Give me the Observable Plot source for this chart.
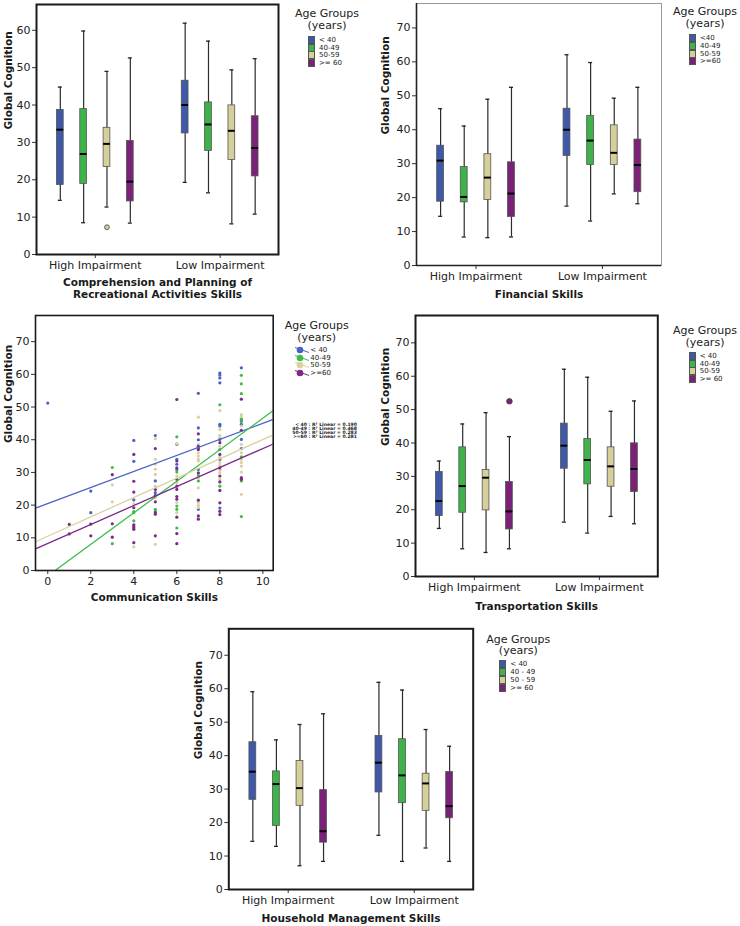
<!DOCTYPE html>
<html>
<head>
<meta charset="utf-8">
<script src="https://cdn.jsdelivr.net/npm/d3@7"></script>
<script src="https://cdn.jsdelivr.net/npm/@observablehq/plot@0.6"></script>
<style>
  body { margin: 0; background: #fff; }
  #root { position: relative; width: 740px; height: 926px; overflow: hidden; font-family: "DejaVu Sans", sans-serif; color: #222; }
  #root svg { position: absolute; overflow: visible; }
  .lg-title { position: absolute; width: 110px; text-align: center; font-size: 11px; line-height: 11.6px; color: #222; }
  .lg-item { position: absolute; height: 8px; display: flex; align-items: center; font-size: 7px; color: #222; white-space: nowrap; }
  .lg-sw { display: inline-block; width: 5px; height: 6px; border: 1px solid #555; margin-right: 4px; }
  .r2 { position: absolute; font-size: 4.6px; line-height: 3.9px; font-weight: bold; white-space: pre; text-align: right; color: #222; }
</style>
</head>
<body>
<div id="root"></div>
<script>
// ---------------- data ----------------
const ageGroups = ["<40", "40-49", "50-59", ">=60"];
const impairmentLevels = ["High Impairment", "Low Impairment"];
const yTitle = "Global Cognition";
const legendTitle = ["Age Groups", "(years)"];

const boxColors = ["#3f58a8", "#3db34a", "#d5cf99", "#7b2178"];
const scatterColors = ["#4862c5", "#3fbd4c", "#d9d19e", "#7b2a85"];

const recreationalYTicks = [0, 10, 20, 30, 40, 50, 60];
const cognitionYTicks = [0, 10, 20, 30, 40, 50, 60, 70];
const communicationXTicks = [0, 2, 4, 6, 8, 10];

// [impairment, age group, lower whisker, Q1, median, Q3, upper whisker]
const recreationalStats = [
  ["High Impairment", "<40", 14.5, 18.6, 33.4, 38.7, 44.8],
  ["High Impairment", "40-49", 8.5, 18.9, 26.9, 38.9, 59.8],
  ["High Impairment", "50-59", 12.7, 23.4, 29.6, 33.9, 49.0],
  ["High Impairment", ">=60", 8.4, 14.2, 19.5, 30.4, 52.6],
  ["Low Impairment", "<40", 19.3, 32.4, 40.0, 46.5, 61.9],
  ["Low Impairment", "40-49", 16.5, 27.7, 34.8, 40.7, 57.1],
  ["Low Impairment", "50-59", 8.2, 25.3, 33.1, 39.9, 49.4],
  ["Low Impairment", ">=60", 10.8, 20.9, 28.5, 37.0, 52.4]
];
const recreationalOutliers = [["High Impairment", "50-59", 7.3]];

const financialStats = [
  ["High Impairment", "<40", 14.5, 18.8, 30.9, 35.3, 46.2],
  ["High Impairment", "40-49", 8.4, 18.6, 20.2, 29.0, 41.1],
  ["High Impairment", "50-59", 8.2, 19.3, 25.9, 32.8, 49.0],
  ["High Impairment", ">=60", 8.4, 14.3, 21.2, 30.4, 52.5],
  ["Low Impairment", "<40", 17.5, 32.3, 40.0, 46.2, 62.1],
  ["Low Impairment", "40-49", 13.1, 29.6, 36.8, 44.1, 59.8],
  ["Low Impairment", "50-59", 21.1, 29.6, 33.2, 41.3, 49.3],
  ["Low Impairment", ">=60", 18.2, 21.6, 29.6, 37.1, 52.5]
];

const transportationStats = [
  ["High Impairment", "<40", 14.4, 18.1, 22.6, 31.3, 34.6],
  ["High Impairment", "40-49", 8.3, 19.1, 27.1, 38.7, 45.7],
  ["High Impairment", "50-59", 7.2, 19.8, 29.6, 31.9, 49.1],
  ["High Impairment", ">=60", 8.3, 14.1, 19.5, 28.3, 41.9],
  ["Low Impairment", "<40", 16.3, 32.3, 39.2, 45.8, 62.1],
  ["Low Impairment", "40-49", 13.0, 27.6, 34.9, 41.2, 59.7],
  ["Low Impairment", "50-59", 18.0, 26.9, 33.0, 38.7, 49.5],
  ["Low Impairment", ">=60", 15.8, 25.3, 32.2, 39.9, 52.6]
];
const transportationOutliers = [["High Impairment", ">=60", 52.5]];

const householdStats = [
  ["High Impairment", "<40", 14.4, 26.8, 35.2, 44.0, 59.1],
  ["High Impairment", "40-49", 12.9, 19.0, 31.5, 35.3, 44.7],
  ["High Impairment", "50-59", 7.1, 25.0, 30.3, 38.4, 49.3],
  ["High Impairment", ">=60", 8.4, 14.0, 17.4, 29.7, 52.5],
  ["Low Impairment", "<40", 16.2, 29.0, 37.9, 45.9, 61.9],
  ["Low Impairment", "40-49", 8.4, 25.8, 34.1, 44.9, 59.6],
  ["Low Impairment", "50-59", 12.4, 23.5, 31.7, 34.6, 47.8],
  ["Low Impairment", ">=60", 8.4, 21.3, 24.9, 35.1, 42.8]
];

// Communication skills scatter: [score, global cognition]
const commUnder40 = [[0,51.2],[2,24.3],[2,17.7],[4,39.8],[4,33.4],[4,21.6],[5,41.3],[5,27.4],[5,23.8],[5,23.0],
  [6,38.6],[6,34],[6,32.5],[6,30.9],[7,54.2],[7,43.6],[7,40],[7,37.5],[7,30.9],[7,18.7],
  [8,60.4],[8,59.8],[8,58.9],[8,57.4],[8,44.7],[8,44.2],[8,40.1],[8,34],[8,19.1],
  [9,62],[9,46],[9,44.7],[9,40.1],[9,37.3]];
const comm40to49 = [[3,31.5],[3,8.2],[4,18],[4,17.7],[4,15.2],[5,18.7],[5,18.2],[6,40.9],[6,30.1],[6,19.7],
  [6,18.7],[6,13],[7,29.1],[7,27.4],[8,50.7],[8,37],[8,25.8],[9,59.7],[9,57.1],[9,54.1],
  [9,46.4],[9,45.5],[9,34.8],[9,27.4],[9,16.5]];
const comm50to59 = [[3,26.2],[3,21],[4,20.4],[4,7.2],[5,40.3],[5,34],[5,32.5],[5,31],[5,29.4],[5,25.8],
  [5,22.3],[5,8],[6,38.8],[6,28.9],[6,26.9],[6,20.8],[6,17.7],[7,46.9],[7,38.6],[7,36],
  [7,35],[7,34],[7,33.5],[7,28.4],[7,25.3],[7,20.8],[7,19.9],[7,19.2],[8,48.9],[8,43.1],
  [8,41.3],[8,40.9],[8,38],[8,34.7],[8,33],[8,32.2],[8,30.7],[8,29.9],[8,27.9],[9,47.7],
  [9,47.2],[9,44.2],[9,38.6],[9,36],[9,34],[9,33],[9,31.9],[9,30.1],[9,23.3]];
const comm60plus = [[1,14.1],[1,11.2],[2,14.2],[2,10.6],[3,29.3],[3,14.3],[3,10.2],[4,35.5],[4,27.3],[4,24],
  [4,19.2],[4,14],[4,13.6],[4,13.1],[4,12.6],[4,8.5],[5,37.3],[5,24.8],[5,21],[5,17.7],
  [5,17.2],[5,10.6],[6,52.3],[6,33.5],[6,31.4],[6,27.9],[6,25.8],[6,24.8],[6,22.6],[6,21.8],
  [6,16.3],[6,11.3],[6,8.2],[7,41.8],[7,38],[7,37],[7,29.9],[7,21.5],[7,16.7],[7,15.7],
  [8,39.1],[8,35.5],[8,31.4],[8,28.9],[8,27.1],[8,24.5],[8,20.7],[8,18.1],[8,17.1],
  [9,52.4],[9,42.9],[9,28.4],[9,27.9]];
// fitted lines read at the plot edges: [group, x start, y start, x end, y end]
const commFits = [
  ["<40", -0.57, 19.1, 10.48, 46.2],
  ["40-49", 0.34, 0, 10.48, 48.9],
  ["50-59", -0.57, 8.8, 10.48, 41.5],
  [">=60", -0.57, 6.6, 10.48, 38.7]
];
const commR2 = [0.190, 0.468, 0.283, 0.281];
const commXDomain = [-0.57, 10.48];

const legendLabels1 = ["< 40", "40-49", "50-59", ">= 60"];
const legendLabels2 = ["<40", "40-49", "50-59", ">=60"];
const legendLabels3 = ["< 40", "40-49", "50-59", ">=60"];
const legendLabels4 = ["< 40", "40-49", "50-59", ">= 60"];
const legendLabels5 = ["< 40", "40 - 49", "50 - 59", ">= 60"];
const r2Labels = ["< 40", "40-49", "50-59", ">=60"];

// ---------------- layout helpers ----------------
const root = document.getElementById("root");
const SLOT_GAP = 5.35, BOX_HALF = 0.145, CAP_HALF = 0.085;
const X_DOMAIN = [-1.02, 9.35];
const plotStyle = { fontFamily: "DejaVu Sans, sans-serif", fontSize: "11px", color: "#222", background: "transparent" };

function place(svg, left, top) {
  svg.style.left = left + "px";
  svg.style.top = top + "px";
  root.appendChild(svg);
}

function slot(imp, age) {
  return impairmentLevels.indexOf(imp) * SLOT_GAP + ageGroups.indexOf(age);
}

function boxPanel(cfg) {
  const rows = cfg.stats.map(([imp, age, lo, q1, med, q3, hi]) => ({imp, age, lo, q1, med, q3, hi, pos: slot(imp, age)}));
  const outl = (cfg.outliers || []).map(([imp, age, v]) => ({age, v, pos: slot(imp, age)}));
  const centers = impairmentLevels.map((_, i) => i * SLOT_GAP + (ageGroups.length - 1) / 2);
  const frameMarks = cfg.openFrame
    ? [
        Plot.frame({stroke: "#999", strokeWidth: 1}),
        Plot.ruleX([X_DOMAIN[0]], {stroke: "#222", strokeWidth: 1.6}),
        Plot.ruleY([0], {stroke: "#222", strokeWidth: 1.6})
      ]
    : [Plot.frame({stroke: "#1a1a1a", strokeWidth: 2})];
  return Plot.plot({
    width: cfg.width, height: cfg.height,
    marginLeft: cfg.mL, marginRight: cfg.mR, marginTop: cfg.mT, marginBottom: cfg.mB,
    style: plotStyle,
    x: {domain: X_DOMAIN, axis: null},
    y: {domain: [0, cfg.yMax], axis: null},
    color: {domain: ageGroups, range: boxColors},
    marks: [
      Plot.ruleX(rows, {x: "pos", y1: "lo", y2: "hi", stroke: "#2b2b2b", strokeWidth: 1.2}),
      Plot.ruleY(rows, {x1: d => d.pos - CAP_HALF, x2: d => d.pos + CAP_HALF, y: "hi", stroke: "#222", strokeWidth: 1.3}),
      Plot.ruleY(rows, {x1: d => d.pos - CAP_HALF, x2: d => d.pos + CAP_HALF, y: "lo", stroke: "#222", strokeWidth: 1.3}),
      Plot.rect(rows, {x1: d => d.pos - BOX_HALF, x2: d => d.pos + BOX_HALF, y1: "q1", y2: "q3", fill: "age", stroke: "#555", strokeWidth: 0.8}),
      Plot.ruleY(rows, {x1: d => d.pos - BOX_HALF, x2: d => d.pos + BOX_HALF, y: "med", stroke: "#000", strokeWidth: 2}),
      Plot.dot(outl, {x: "pos", y: "v", r: cfg.outlierR || 2.5, fill: "age", stroke: "#444", strokeWidth: 0.8}),
      Plot.axisY({ticks: cfg.yTicks, tickSize: 4, tickPadding: 2, tickFormat: d => d, label: null, stroke: "#333"}),
      Plot.axisX({ticks: centers, tickSize: 4, tickPadding: 3, tickFormat: (d, i) => impairmentLevels[i], label: null, stroke: "#333"}),
      ...frameMarks,
      Plot.text([cfg.xTitle], {frameAnchor: "bottom", dy: cfg.titleDy, lineAnchor: "top", fontWeight: "bold", fontSize: 10.5, lineHeight: 1.12, fill: "#1a1a1a"}),
      Plot.text([yTitle], {frameAnchor: "left", dx: -cfg.yTitleDx, rotate: -90, fontWeight: "bold", fontSize: 10.5, fill: "#1a1a1a"})
    ]
  });
}

function addLegend({cx, titleTop, itemX, itemY, step, labels, scatter}) {
  const t = document.createElement("div");
  t.className = "lg-title";
  t.style.left = (cx - 55) + "px";
  t.style.top = titleTop + "px";
  t.innerHTML = legendTitle.join("<br>");
  root.appendChild(t);
  labels.forEach((lab, i) => {
    const it = document.createElement("div");
    it.className = "lg-item";
    it.style.left = (itemX - 4) + "px";
    it.style.top = (itemY + i * step - 4) + "px";
    if (scatter) {
      it.innerHTML = `<svg width="14" height="8" style="position:static;overflow:visible;margin-right:1px">
        <line x1="0" y1="1.5" x2="14" y2="6.5" stroke="${scatterColors[i]}" stroke-width="1"/>
        <circle cx="5" cy="4" r="3.3" fill="${scatterColors[i]}"/></svg><span>${lab}</span>`;
      it.style.left = (itemX - 9) + "px";
    } else {
      it.innerHTML = `<span class="lg-sw" style="background:${boxColors[i]}"></span><span>${lab}</span>`;
    }
    root.appendChild(it);
  });
}

// ---------------- panel 1: recreational ----------------
place(boxPanel({
  stats: recreationalStats, outliers: recreationalOutliers, outlierR: 2.4,
  width: 290, height: 305, mL: 36, mR: 12, mT: 4, mB: 51,
  yMax: 66.9, yTicks: recreationalYTicks,
  xTitle: "Comprehension and Planning of\nRecreational Activities Skills", titleDy: 23, yTitleDx: 28
}), 0, 0);
addLegend({cx: 327, titleTop: 8, itemX: 312, itemY: 40, step: 7.7, labels: legendLabels1});

// ---------------- panel 2: financial ----------------
place(boxPanel({
  stats: financialStats, openFrame: true,
  width: 300, height: 305, mL: 46, mR: 9, mT: 3, mB: 40,
  yMax: 77.2, yTicks: cognitionYTicks,
  xTitle: "Financial Skills", titleDy: 24, yTitleDx: 31
}), 370, 0);
addLegend({cx: 705, titleTop: 6, itemX: 693, itemY: 38.3, step: 7.6, labels: legendLabels2});

// ---------------- panel 3: communication scatter ----------------
const commGroups = [commUnder40, comm40to49, comm50to59, comm60plus];
const commRows = commGroups.flatMap((pts, gi) => pts.map(([x, y]) => ({x, y, age: ageGroups[gi]})));
const fitRows = commFits.map(([age, x1, y1, x2, y2]) => ({age, x1, y1, x2, y2}));
place(Plot.plot({
  width: 290, height: 300, marginLeft: 35, marginRight: 17.3, marginTop: 5, marginBottom: 40,
  style: plotStyle,
  x: {domain: commXDomain, axis: null},
  y: {domain: [0, 78], axis: null},
  color: {domain: ageGroups, range: scatterColors},
  marks: [
    Plot.dot(commRows, {x: "x", y: "y", fill: "age", r: 1.6}),
    Plot.link(fitRows, {x1: "x1", y1: "y1", x2: "x2", y2: "y2", stroke: "age", strokeWidth: 1.3, clip: true}),
    Plot.axisY({ticks: cognitionYTicks, tickSize: 4, tickPadding: 2, label: null, stroke: "#333"}),
    Plot.axisX({ticks: communicationXTicks, tickSize: 4, tickPadding: 3, label: null, stroke: "#333"}),
    Plot.frame({stroke: "#1a1a1a", strokeWidth: 1.6}),
    Plot.text(["Communication Skills"], {frameAnchor: "bottom", dy: 30, fontWeight: "bold", fontSize: 10.5, fill: "#1a1a1a"}),
    Plot.text([yTitle], {frameAnchor: "left", dx: -27, rotate: -90, fontWeight: "bold", fontSize: 10.5, fill: "#1a1a1a"})
  ]
}), 0, 310);
addLegend({cx: 316.7, titleTop: 320, itemX: 304.3, itemY: 350, step: 7.6, labels: legendLabels3, scatter: true});
const r2 = document.createElement("div");
r2.className = "r2";
r2.style.left = "288px";
r2.style.top = "423px";
r2.style.width = "69px";
r2.textContent = r2Labels.map((g, i) => `${g} : R² Linear = ${commR2[i].toFixed(3)}`).join("\n");
root.appendChild(r2);

// ---------------- panel 4: transportation ----------------
place(boxPanel({
  stats: transportationStats, outliers: transportationOutliers, outlierR: 2.8,
  width: 300, height: 300, mL: 45, mR: 12.7, mT: 5, mB: 34,
  yMax: 78.2, yTicks: cognitionYTicks,
  xTitle: "Transportation Skills", titleDy: 25, yTitleDx: 30
}), 370, 310);
addLegend({cx: 705, titleTop: 325, itemX: 692.7, itemY: 355.7, step: 7.8, labels: legendLabels4});

// ---------------- panel 5: household ----------------
place(boxPanel({
  stats: householdStats,
  width: 295, height: 306, mL: 38.3, mR: 12.3, mT: 8.3, mB: 37,
  yMax: 77.9, yTicks: cognitionYTicks,
  xTitle: "Household Management Skills", titleDy: 24, yTitleDx: 30
}), 190, 620);
addLegend({cx: 518.3, titleTop: 633.5, itemX: 503.3, itemY: 664.3, step: 8, labels: legendLabels5});
</script>
</body>
</html>
